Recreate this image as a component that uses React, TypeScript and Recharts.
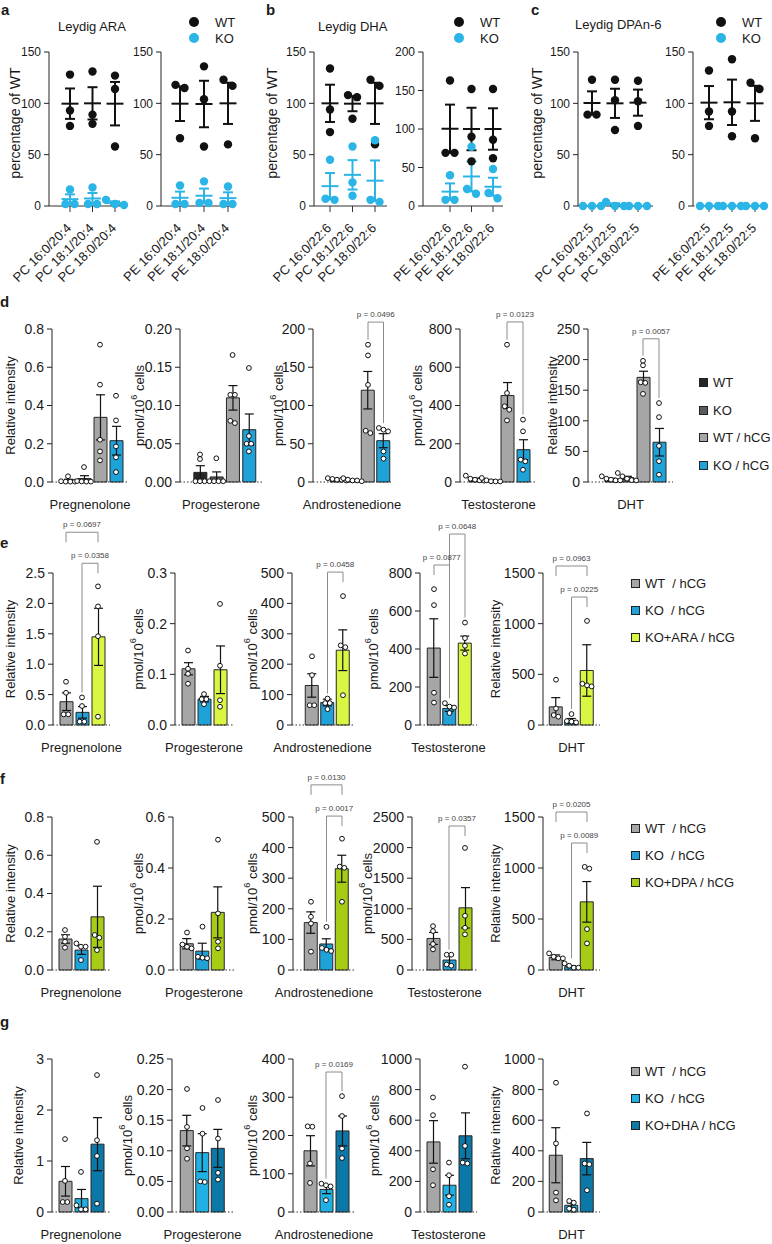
import React from "react";
import { Bar, Cell, ComposedChart, ErrorBar, ReferenceLine, Scatter, XAxis, YAxis } from "recharts";

const FONT = '"Liberation Sans", Arial, Helvetica, sans-serif';
const INK = "#1a1a1a";
const BRACKET = "#8c8c8c";

// ---------- a–c: lipid species in Leydig cells, % of WT ----------
const araPC = ["PC 16:0/20:4", "PC 18:1/20:4", "PC 18:0/20:4"];
const araPE = ["PE 16:0/20:4", "PE 18:1/20:4", "PE 18:0/20:4"];
const dhaPC = ["PC 16:0/22:6", "PC 18:1/22:6", "PC 18:0/22:6"];
const dhaPE = ["PE 16:0/22:6", "PE 18:1/22:6", "PE 18:0/22:6"];
const dpaPC = ["PC 16:0/22:5", "PC 18:1/22:5", "PC 18:0/22:5"];
const dpaPE = ["PE 16:0/22:5", "PE 18:1/22:5", "PE 18:0/22:5"];

const araPC_WT = [[128, 93, 78], [131, 89, 80], [127, 114, 58]];
const araPC_KO = [[16, 2, 2], [18, 2, 2], [6, 2, 1]];
const araPE_WT = [[115, 118, 66], [136, 104, 58], [123, 117, 60]];
const araPE_KO = [[20, 2, 2], [24, 3, 3], [19, 2, 2]];
const dhaPC_WT = [[134, 94, 72], [106, 108, 85], [123, 117, 60]];
const dhaPC_KO = [[45, 6, 7], [58, 23, 10], [64, 4, 6]];
const dhaPE_WT = [[163, 69, 69], [152, 90, 58], [152, 86, 62]];
const dhaPE_KO = [[40, 8, 8], [77, 22, 16], [48, 17, 10]];
const dpaPC_WT = [[123, 89, 89], [123, 103, 74], [122, 102, 78]];
const dpaPC_KO = [[0, 0, 0], [0, 4, 0], [0, 0, 0]];
const dpaPE_WT = [[132, 92, 78], [143, 92, 68], [120, 114, 66]];
const dpaPE_KO = [[0, 0, 0], [0, 0, 0], [0, 0, 0]];

const pct150 = [0, 50, 100, 150];
const pct200 = [0, 50, 100, 150, 200];
const genotypes = ["WT", "KO"];

// ---------- d–g: steroids ----------
const hormones = ["Pregnenolone", "Progesterone", "Androstenedione", "Testosterone", "DHT"];
const hormoneUnits = ["Relative intensity", "pmol/10^6 cells", "pmol/10^6 cells", "pmol/10^6 cells", "Relative intensity"];

type Leg = "d" | "s";
type Bracket = { a: number; b: number; p: string; top: number; legs: [Leg, Leg] };

// d
const dGroups = ["WT", "KO", "WT / hCG", "KO / hCG"];
const dTicks = [[0, 0.2, 0.4, 0.6, 0.8], [0, 0.05, 0.1, 0.15, 0.2], [0, 50, 100, 150, 200], [0, 200, 400, 600, 800], [0, 50, 100, 150, 200, 250]];
const dDecimals = [1, 2, 0, 0, 0];
const dMeans = [
  [0.008, 0.018, 0.338, 0.216],
  [0.0126, 0.0066, 0.11, 0.0684],
  [3.4, 2.6, 120, 54],
  [15.6, 8, 452, 169],
  [4.8, 7, 171, 65],
];
const dSems = [
  [0.006, 0.015, 0.118, 0.075],
  [0.0087, 0.0066, 0.016, 0.0205],
  [0.5, 0.7, 24.5, 9.2],
  [4.7, 3.5, 68, 52],
  [1.3, 2.3, 10, 22.5],
];
const dPoints = [
  [[0.03, 0.004, 0.002, 0.002, 0.002], [0.078, 0.005, 0.003, 0.002, 0.002], [0.718, 0.509, 0.221, 0.16, 0.113], [0.451, 0.322, 0.186, 0.129, 0.052]],
  [[0.036, 0.03, 0.001, 0.001, 0.001], [0.031, 0.001, 0.001, 0.001, 0.001], [0.166, 0.114, 0.114, 0.08, 0.077], [0.149, 0.06, 0.05, 0.05, 0.04]],
  [[5, 4, 3, 3, 2], [5, 3, 2, 2, 1], [179.5, 165.5, 127, 67, 64], [70.6, 68.4, 66.2, 40, 30.5]],
  [[33, 17, 12, 9, 7], [21, 9, 4, 3, 3], [718, 465, 396, 378, 322], [326, 265, 117, 108, 64]],
  [[9.3, 5.4, 3.8, 2.7, 2.7], [14.7, 9.3, 5.4, 3, 2.5], [198, 190.6, 163, 162, 144], [129, 106, 59, 34, 12]],
];
const dBrackets: Bracket[][] = [
  [],
  [],
  [{ a: 2, b: 3, p: "0.0496", top: 209, legs: ["d", "d"] }],
  [{ a: 2, b: 3, p: "0.0123", top: 837, legs: ["d", "d"] }],
  [{ a: 2, b: 3, p: "0.0057", top: 234, legs: ["d", "d"] }],
];

// e (ARA rescue)
const eGroups = ["WT  / hCG", "KO  / hCG", "KO+ARA / hCG"];
const eTicks = [[0, 0.5, 1, 1.5, 2, 2.5], [0, 0.1, 0.2, 0.3], [0, 100, 200, 300, 400, 500], [0, 200, 400, 600, 800], [0, 500, 1000, 1500]];
const eDecimals = [1, 1, 0, 0, 0];
const eMeans = [
  [0.383, 0.208, 1.45],
  [0.111, 0.051, 0.109],
  [130, 74, 246],
  [405, 87, 431],
  [179, 39, 538],
];
const eSems = [
  [0.145, 0.095, 0.47],
  [0.012, 0.0055, 0.047],
  [38.5, 11, 67],
  [154, 15, 37],
  [91, 25, 254],
];
const ePoints = [
  [[0.711, 0.53, 0.175, 0.175], [0.454, 0.312, 0.055, 0.055], [2.28, 1.95, 1.46, 0.137]],
  [[0.147, 0.111, 0.101, 0.0815], [0.061, 0.051, 0.051, 0.041], [0.239, 0.117, 0.049, 0.036]],
  [[226, 164, 65, 65], [87, 72, 72, 52], [424, 262, 256, 98]],
  [[715, 631, 170, 118], [115, 97, 92, 63], [539, 457, 417, 376]],
  [[447, 163, 98, 82], [108, 39, 33, 26], [1027, 407, 391, 381]],
];
const eBrackets: Bracket[][] = [
  [
    { a: 0, b: 2, p: "0.0697", top: 3.17, legs: ["s", "s"] },
    { a: 1, b: 2, p: "0.0358", top: 2.66, legs: ["d", "s"] },
  ],
  [],
  [{ a: 1, b: 2, p: "0.0458", top: 503, legs: ["d", "s"] }],
  [
    { a: 0, b: 1, p: "0.0877", top: 842, legs: ["s", "d"] },
    { a: 1, b: 2, p: "0.0648", top: 1005, legs: ["d", "d"] },
  ],
  [
    { a: 0, b: 2, p: "0.0963", top: 1569, legs: ["s", "s"] },
    { a: 1, b: 2, p: "0.0225", top: 1263, legs: ["d", "s"] },
  ],
];

// f (DPA rescue)
const fGroups = ["WT  / hCG", "KO  / hCG", "KO+DPA / hCG"];
const fTicks = [[0, 0.2, 0.4, 0.6, 0.8], [0, 0.2, 0.4, 0.6], [0, 100, 200, 300, 400, 500], [0, 500, 1000, 1500, 2000, 2500], [0, 500, 1000, 1500]];
const fDecimals = [1, 1, 0, 0, 0];
const fMeans = [
  [0.162, 0.104, 0.278],
  [0.103, 0.074, 0.226],
  [155, 85, 331],
  [516, 163, 1016],
  [124, 33, 668],
];
const fSems = [
  [0.022, 0.022, 0.16],
  [0.02, 0.031, 0.1],
  [35, 17, 44],
  [98, 81, 330],
  [24, 10, 199],
];
const fPoints = [
  [[0.209, 0.174, 0.148, 0.117], [0.139, 0.122, 0.122, 0.052], [0.67, 0.183, 0.169, 0.104]],
  [[0.147, 0.1, 0.091, 0.085], [0.17, 0.052, 0.048, 0.046], [0.511, 0.222, 0.111, 0.085]],
  [[223, 174, 152, 60], [141, 72, 66, 62], [429, 338, 334, 223]],
  [[717, 636, 424, 337], [250, 250, 90, 70], [1995, 886, 690, 582]],
  [[163, 130, 114, 114], [65, 42, 23, 23], [1011, 994, 401, 261]],
];
const fBrackets: Bracket[][] = [
  [],
  [],
  [
    { a: 0, b: 2, p: "0.0130", top: 605, legs: ["s", "s"] },
    { a: 1, b: 2, p: "0.0017", top: 503, legs: ["d", "s"] },
  ],
  [{ a: 1, b: 2, p: "0.0357", top: 2353, legs: ["d", "s"] }],
  [
    { a: 0, b: 2, p: "0.0205", top: 1549, legs: ["s", "s"] },
    { a: 1, b: 2, p: "0.0089", top: 1245, legs: ["d", "s"] },
  ],
];

// g (DHA rescue)
const gGroups = ["WT  / hCG", "KO  / hCG", "KO+DHA / hCG"];
const gTicks = [[0, 1, 2, 3], [0, 0.05, 0.1, 0.15, 0.2, 0.25], [0, 100, 200, 300, 400], [0, 200, 400, 600, 800, 1000], [0, 200, 400, 600, 800, 1000]];
const gDecimals = [0, 2, 0, 0, 0];
const gMeans = [
  [0.602, 0.262, 1.33],
  [0.133, 0.097, 0.104],
  [160, 59, 212],
  [458, 175, 498],
  [371, 44, 349],
];
const gSems = [
  [0.29, 0.18, 0.52],
  [0.025, 0.031, 0.031],
  [39.5, 11, 39],
  [139, 65, 150],
  [180, 15, 106],
];
const gPoints = [
  [[1.43, 0.61, 0.196, 0.196], [0.786, 0.131, 0.052, 0.052], [2.685, 1.408, 1.1, 0.164]],
  [[0.201, 0.139, 0.104, 0.087], [0.17, 0.128, 0.05, 0.049], [0.183, 0.12, 0.064, 0.053]],
  [[223, 224, 127, 76], [74, 70, 67, 31], [303, 251, 166, 141]],
  [[749, 633, 279, 175], [323, 240, 103, 48], [950, 432, 323, 317]],
  [[845, 448, 127, 76], [72, 61, 22, 15], [644, 317, 312, 142]],
];
const gBrackets: Bracket[][] = [[], [], [{ a: 1, b: 2, p: "0.0169", top: 366, legs: ["d", "d"] }], [], []];

// ---------- colours ----------
const wtColor = "#111111";
const koColor = "#2bb4e6";
const dColors = ["#262626", "#5a5a5a", "#a6a6a6", "#1ea2d7"];
const eColors = ["#a6a6a6", "#1ea2d7", "#daf542"];
const fColors = ["#a6a6a6", "#1ea2d7", "#a6cc16"];
const gColors = ["#a6a6a6", "#20b1e4", "#0b78a8"];

// ---------- layout (page pixels) ----------
type Slot = { axisX: number; c0: number; step: number; end: number; ylx: number };
type Row = { top: number; plotTop: number; zero: number };

const aSlots: Slot[] = [
  { axisX: 49, c0: 70, step: 22.5, end: 127, ylx: 15 },
  { axisX: 161, c0: 180, step: 24, end: 235, ylx: 0 },
  { axisX: 314, c0: 330, step: 22.5, end: 387, ylx: 272 },
  { axisX: 423, c0: 450, step: 21.5, end: 503, ylx: 0 },
  { axisX: 578, c0: 592, step: 23, end: 653, ylx: 537 },
  { axisX: 693, c0: 709, step: 23, end: 770, ylx: 0 },
];
const dSlots: Slot[] = [
  { axisX: 52, c0: 68, step: 16, end: 128, ylx: 10 },
  { axisX: 180, c0: 200, step: 16.3, end: 262, ylx: 139 },
  { axisX: 313, c0: 337, step: 15.5, end: 391, ylx: 278 },
  { axisX: 460, c0: 475, step: 16, end: 537, ylx: 417 },
  { axisX: 588, c0: 611, step: 16, end: 673, ylx: 552 },
];
const eSlots: Slot[] = [
  { axisX: 53, c0: 66, step: 16, end: 110, ylx: 10 },
  { axisX: 175, c0: 188, step: 16, end: 233, ylx: 138 },
  { axisX: 292, c0: 312, step: 15.5, end: 353, ylx: 252 },
  { axisX: 420, c0: 434, step: 15.5, end: 477, ylx: 373 },
  { axisX: 543, c0: 556, step: 15.5, end: 600, ylx: 495 },
];
const fSlots: Slot[] = [
  { axisX: 52, c0: 65, step: 16, end: 110, ylx: 10 },
  { axisX: 173, c0: 187, step: 15.5, end: 235, ylx: 138 },
  { axisX: 293, c0: 311, step: 15.5, end: 355, ylx: 252 },
  { axisX: 412, c0: 433, step: 16, end: 477, ylx: 367 },
  { axisX: 543, c0: 556, step: 15.5, end: 600, ylx: 495 },
];
const gSlots: Slot[] = [
  { axisX: 52, c0: 65, step: 16, end: 110, ylx: 18 },
  { axisX: 172, c0: 187, step: 15.5, end: 233, ylx: 127 },
  { axisX: 293, c0: 310, step: 16, end: 355, ylx: 252 },
  { axisX: 420, c0: 433, step: 16, end: 477, ylx: 374 },
  { axisX: 543, c0: 556, step: 15.5, end: 600, ylx: 495 },
];
const dRow: Row = { top: 296, plotTop: 329, zero: 482 };
const eRow: Row = { top: 514, plotTop: 573, zero: 725 };
const fRow: Row = { top: 762, plotTop: 817, zero: 970 };
const gRow: Row = { top: 1040, plotTop: 1059, zero: 1212 };

// ---------- helpers ----------
const mean = (a: number[]) => a.reduce((s, v) => s + v, 0) / a.length;
const semOf = (a: number[]) => {
  const m = mean(a);
  return Math.sqrt(a.reduce((s, v) => s + (v - m) ** 2, 0) / (a.length - 1) / a.length);
};

// spreads near-equal values sideways (pixel offsets), like Prism's scatter
function swarm(vals: number[], upp: number, near: number, spread: number): number[] {
  const order = vals.map((_, i) => i).sort((a, b) => vals[b] - vals[a]);
  const out = vals.map(() => 0);
  let group: number[] = [];
  const flush = () => {
    group.forEach((k, j) => (out[k] = (j - (group.length - 1) / 2) * spread));
    group = [];
  };
  order.forEach((i) => {
    const last = group[group.length - 1];
    if (group.length && (vals[last] - vals[i]) / upp >= near) flush();
    group.push(i);
  });
  flush();
  return out;
}

function AxisTitle({ x, y, text, size }: { x: number; y: number; text: string; size: number }) {
  const m = text.match(/^(.*)\^(\d+)(.*)$/);
  return (
    <text x={x} y={y} transform={`rotate(-90 ${x} ${y})`} textAnchor="middle" dominantBaseline="central" fontSize={size} fill={INK}>
      {m ? (
        <>
          <tspan>{m[1]}</tspan>
          <tspan dy={-5} fontSize={size * 0.7}>{m[2]}</tspan>
          <tspan dy={5}>{m[3]}</tspan>
        </>
      ) : (
        text
      )}
    </text>
  );
}

function SlantTick(props: any) {
  const { x, y, payload, labels } = props;
  const ax = x + 2;
  const ay = y + 15;
  return (
    <text x={ax} y={ay} transform={`rotate(-45 ${ax} ${ay})`} textAnchor="end" fontSize={13} fill={INK}>
      {labels[payload.value]}
    </text>
  );
}

function DotPanel({ slot, labels, wt, ko, ticks, ylabel, dotted }: {
  slot: Slot; labels: string[]; wt: number[][]; ko: number[][]; ticks: number[]; ylabel?: string; dotted?: boolean;
}) {
  const YW = 50, RM = 8, top = 44, plotTop = 52, zero = 206, XH = 80;
  const left = slot.axisX - YW;
  const width = slot.end - left + RM;
  const height = zero - top + XH;
  const ymax = ticks[ticks.length - 1];
  const upp = ymax / (zero - plotTop);
  const pts = (sets: number[][]) =>
    sets.flatMap((vals, i) => {
      const off = swarm(vals, upp, 8, 9);
      return vals.map((v, k) => ({ x: i, v, dx: off[k] }));
    });
  const stats = (sets: number[][]) => sets.map((vals, i) => ({ x: i, v: mean(vals), err: semOf(vals) }));
  const dot = (color: string) => (p: any) => <circle cx={p.cx + (p.payload?.dx ?? 0)} cy={p.cy} r={4.2} fill={color} />;
  const meanLine = (color: string) => (p: any) => (
    <line x1={p.cx - 8.5} x2={p.cx + 8.5} y1={p.cy} y2={p.cy} stroke={color} strokeWidth={2} />
  );
  return (
    <div style={{ position: "absolute", left, top }}>
      <ComposedChart width={width} height={height} margin={{ top: plotTop - top, right: RM, bottom: 0, left: 0 }}>
        <XAxis
          type="number"
          dataKey="x"
          domain={[-(slot.c0 - slot.axisX) / slot.step, (slot.end - slot.c0) / slot.step]}
          ticks={[0, 1, 2]}
          interval={0}
          height={XH}
          tickSize={6}
          tickLine={{ stroke: "#333" }}
          axisLine={{ stroke: "#333", strokeDasharray: dotted ? "1.5 2" : undefined }}
          tick={(p: any) => <SlantTick {...p} labels={labels} />}
        />
        <YAxis
          type="number"
          domain={[0, ymax]}
          ticks={ticks}
          interval={0}
          width={YW}
          tickSize={5}
          tickMargin={3}
          tick={{ fontSize: 12, fill: INK }}
          axisLine={{ stroke: "#222" }}
          tickLine={{ stroke: "#222" }}
          label={ylabel ? () => <AxisTitle x={slot.ylx - left} y={(plotTop + zero) / 2 - top - 6} text={ylabel} size={14} /> : undefined}
        />
        <Scatter name="WT" data={pts(wt)} dataKey="v" shape={dot(wtColor)} isAnimationActive={false} />
        <Scatter name="KO" data={pts(ko)} dataKey="v" shape={dot(koColor)} isAnimationActive={false} />
        <Scatter data={stats(wt)} dataKey="v" shape={meanLine(wtColor)} isAnimationActive={false}>
          <ErrorBar dataKey="err" direction="y" width={5} stroke={wtColor} strokeWidth={2} />
        </Scatter>
        <Scatter data={stats(ko)} dataKey="v" shape={meanLine(koColor)} isAnimationActive={false}>
          <ErrorBar dataKey="err" direction="y" width={5} stroke={koColor} strokeWidth={2} />
        </Scatter>
      </ComposedChart>
    </div>
  );
}

function BarPanel({ slot, row, ticks, dec, means, sems, points, colors, ylabel, xlabel, brackets }: {
  slot: Slot; row: Row; ticks: number[]; dec: number; means: number[]; sems: number[]; points: number[][];
  colors: string[]; ylabel: string; xlabel: string; brackets: Bracket[];
}) {
  const YW = 62, XH = 34, RM = 40;
  const left = slot.axisX - YW;
  const width = slot.end - left + RM;
  const height = row.zero - row.top + XH;
  const ymax = ticks[ticks.length - 1];
  const upp = ymax / (row.zero - row.plotTop);
  const bars = means.map((m, i) => ({ x: i, mean: m, sem: sems[i] }));
  const dots = points.flatMap((vals, i) => {
    const off = swarm(vals, upp, 4.2, 4.6);
    return vals.map((v, k) => ({ x: i, v, dx: off[k] }));
  });
  const legEnd = (g: number, leg: Leg, top: number) =>
    leg === "s" ? top - 10 * upp : Math.max(...points[g], means[g] + sems[g]) + 5 * upp;
  const midY = (row.plotTop + row.zero) / 2 - row.top;
  const openDot = (p: any) => (
    <circle cx={p.cx + (p.payload?.dx ?? 0)} cy={p.cy} r={2.4} fill="#fff" stroke="#111" strokeWidth={1} />
  );
  return (
    <div style={{ position: "absolute", left, top: row.top }}>
      <ComposedChart width={width} height={height} data={bars} margin={{ top: row.plotTop - row.top, right: RM, bottom: 0, left: 0 }}>
        <XAxis
          type="number"
          dataKey="x"
          domain={[-(slot.c0 - slot.axisX) / slot.step, (slot.end - slot.c0) / slot.step]}
          ticks={bars.map((b) => b.x)}
          tick={false}
          tickLine={false}
          height={XH}
          axisLine={{ stroke: "#333", strokeDasharray: "1.5 2" }}
          label={() => (
            <text x={(slot.axisX + slot.end) / 2 - left} y={row.zero - row.top + 27} textAnchor="middle" fontSize={13} fill={INK}>
              {xlabel}
            </text>
          )}
        />
        <YAxis
          type="number"
          domain={[0, ymax]}
          ticks={ticks}
          interval={0}
          width={YW}
          tickSize={5}
          tickMargin={3}
          tick={{ fontSize: 14, fill: INK }}
          tickFormatter={(v: number) => v.toFixed(dec)}
          axisLine={{ stroke: "#222" }}
          tickLine={{ stroke: "#222" }}
          label={() => <AxisTitle x={slot.ylx - left} y={midY} text={ylabel} size={13} />}
        />
        <Bar dataKey="mean" barSize={13} stroke="#262626" strokeWidth={1} isAnimationActive={false}>
          {bars.map((_, i) => (
            <Cell key={i} fill={colors[i]} />
          ))}
          <ErrorBar dataKey="sem" direction="y" width={4.5} stroke="#111" strokeWidth={1.2} />
        </Bar>
        <Scatter data={dots} dataKey="v" shape={openDot} isAnimationActive={false} />
        {brackets.flatMap((br, j) => [
          <ReferenceLine
            key={`t${j}`}
            segment={[{ x: br.a, y: br.top }, { x: br.b, y: br.top }]}
            stroke={BRACKET}
            ifOverflow="visible"
            label={{ value: `p = ${br.p}`, position: "top", offset: 5, fontSize: 8, fill: "#444" }}
          />,
          <ReferenceLine
            key={`l${j}`}
            segment={[{ x: br.a, y: br.top }, { x: br.a, y: legEnd(br.a, br.legs[0], br.top) }]}
            stroke={BRACKET}
            ifOverflow="visible"
          />,
          <ReferenceLine
            key={`r${j}`}
            segment={[{ x: br.b, y: br.top }, { x: br.b, y: legEnd(br.b, br.legs[1], br.top) }]}
            stroke={BRACKET}
            ifOverflow="visible"
          />,
        ])}
      </ComposedChart>
    </div>
  );
}

function Letter({ x, y, t }: { x: number; y: number; t: string }) {
  return (
    <div style={{ position: "absolute", left: x, top: y - 9, lineHeight: "18px", fontSize: 15, fontWeight: 700 }}>{t}</div>
  );
}

function Title({ x, y, t }: { x: number; y: number; t: string }) {
  return <div style={{ position: "absolute", left: x, top: y - 8, lineHeight: "16px", fontSize: 13 }}>{t}</div>;
}

function DotLegend({ x, y }: { x: number; y: number }) {
  const colors = [wtColor, koColor];
  return (
    <>
      {genotypes.map((g, i) => (
        <div key={g} style={{ position: "absolute", left: x - 5, top: y + i * 16 - 8, height: 16, display: "flex", alignItems: "center", fontSize: 13 }}>
          <span style={{ width: 10, height: 10, borderRadius: 5, background: colors[i], marginRight: 16 }} />
          {g}
        </div>
      ))}
    </>
  );
}

function SquareLegend({ x, ys, names, colors }: { x: number; ys: number[]; names: string[]; colors: string[] }) {
  return (
    <>
      {names.map((n, i) => (
        <div key={n} style={{ position: "absolute", left: x, top: ys[i] - 8, height: 16, display: "flex", alignItems: "center", fontSize: 13, whiteSpace: "pre" }}>
          <span style={{ width: 7, height: 7, border: "1px solid #222", background: colors[i], marginRight: 5 }} />
          {n}
        </div>
      ))}
    </>
  );
}

export default function App() {
  const rows = [
    { slots: dSlots, row: dRow, ticks: dTicks, dec: dDecimals, means: dMeans, sems: dSems, points: dPoints, colors: dColors, brackets: dBrackets },
    { slots: eSlots, row: eRow, ticks: eTicks, dec: eDecimals, means: eMeans, sems: eSems, points: ePoints, colors: eColors, brackets: eBrackets },
    { slots: fSlots, row: fRow, ticks: fTicks, dec: fDecimals, means: fMeans, sems: fSems, points: fPoints, colors: fColors, brackets: fBrackets },
    { slots: gSlots, row: gRow, ticks: gTicks, dec: gDecimals, means: gMeans, sems: gSems, points: gPoints, colors: gColors, brackets: gBrackets },
  ];
  return (
    <div style={{ position: "absolute", left: 0, top: 0, width: 772, height: 1244, overflow: "hidden", background: "#fff", fontFamily: FONT, color: INK }}>
      <Letter x={1} y={10} t="a" />
      <Letter x={266} y={10} t="b" />
      <Letter x={531} y={10} t="c" />
      <Letter x={0} y={302} t="d" />
      <Letter x={0} y={543} t="e" />
      <Letter x={0} y={779} t="f" />
      <Letter x={0} y={1022} t="g" />

      <Title x={58} y={27} t="Leydig ARA" />
      <Title x={318} y={27} t="Leydig DHA" />
      <Title x={575} y={25} t="Leydig DPAn-6" />
      <DotLegend x={194} y={22} />
      <DotLegend x={459} y={22} />
      <DotLegend x={721} y={22} />

      <DotPanel slot={aSlots[0]} labels={araPC} wt={araPC_WT} ko={araPC_KO} ticks={pct150} ylabel="percentage of WT" />
      <DotPanel slot={aSlots[1]} labels={araPE} wt={araPE_WT} ko={araPE_KO} ticks={pct150} />
      <DotPanel slot={aSlots[2]} labels={dhaPC} wt={dhaPC_WT} ko={dhaPC_KO} ticks={pct150} ylabel="percentage of WT" />
      <DotPanel slot={aSlots[3]} labels={dhaPE} wt={dhaPE_WT} ko={dhaPE_KO} ticks={pct200} />
      <DotPanel slot={aSlots[4]} labels={dpaPC} wt={dpaPC_WT} ko={dpaPC_KO} ticks={pct150} ylabel="percentage of WT" />
      <DotPanel slot={aSlots[5]} labels={dpaPE} wt={dpaPE_WT} ko={dpaPE_KO} ticks={pct150} dotted />

      {rows.map((r, ri) =>
        hormones.map((h, i) => (
          <BarPanel
            key={`${ri}-${i}`}
            slot={r.slots[i]}
            row={r.row}
            ticks={r.ticks[i]}
            dec={r.dec[i]}
            means={r.means[i]}
            sems={r.sems[i]}
            points={r.points[i]}
            colors={r.colors}
            ylabel={hormoneUnits[i]}
            xlabel={h}
            brackets={r.brackets[i]}
          />
        ))
      )}

      <SquareLegend x={699} ys={[382, 410, 437, 465]} names={dGroups} colors={dColors} />
      <SquareLegend x={631} ys={[583, 610, 637]} names={eGroups} colors={eColors} />
      <SquareLegend x={631} ys={[828, 855, 882]} names={fGroups} colors={fColors} />
      <SquareLegend x={631} ys={[1071, 1098, 1125]} names={gGroups} colors={gColors} />
    </div>
  );
}
